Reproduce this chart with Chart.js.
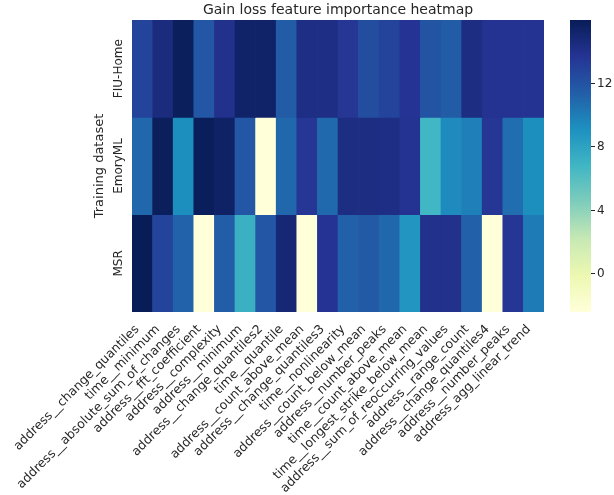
<!DOCTYPE html>
<html>
<head>
<meta charset="utf-8">
<script src="https://cdn.jsdelivr.net/npm/chart.js@4"></script>
<style>
  html, body { margin: 0; padding: 0; background: #ffffff; }
  #wrap { position: relative; width: 614px; height: 495px; }
  #heat { position: absolute; left: 0; top: 0; }
  #cbar { position: absolute; left: 560px; top: 0; }
</style>
</head>
<body>
<div id="wrap">
  <canvas id="heat" width="614" height="495"></canvas>
  <canvas id="cbar" width="54" height="495"></canvas>
</div>
<script>
// Features (columns) and training datasets (rows)
const features = [
  'address__change_quantiles', 'time__minimum', 'address__absolute_sum_of_changes',
  'address__fft_coefficient', 'address__complexity', 'address__minimum',
  'address__change_quantiles2', 'time__quantile', 'address__count_above_mean',
  'address__change_quantiles3', 'time__nonlinearity', 'address__count_below_mean',
  'address__number_peaks', 'time__count_above_mean', 'time__longest_strike_below_mean',
  'address__sum_of_reoccurring_values', 'address__range_count', 'address__change_quantiles4',
  'address__number_peaks', 'address_agg_linear_trend'
];
const rowNames = ['FIU-Home', 'EmoryML', 'MSR'];

// Gain loss per feature, one array per training dataset
const fiuHome = [12.9, 14.5, 15.8, 11.8, 14.0, 15.4, 15.4, 11.5, 14.3, 14.3, 13.6, 12.3, 12.9, 13.7, 12.0, 11.5, 14.4, 13.8, 13.8, 13.8];
const emoryML = [11.0, 15.8, 9.2, 15.9, 15.5, 11.8, -2.4, 11.0, 13.6, 10.9, 14.4, 14.4, 14.3, 13.8, 6.8, 9.4, 9.9, 13.6, 10.7, 9.2];
const msr     = [16.0, 12.9, 11.2, -2.4, 11.4, 7.2, 11.8, 14.9, -2.4, 13.7, 11.3, 11.6, 11.0, 8.8, 14.0, 14.0, 11.3, -2.4, 13.6, 10.1];

const colorbarTicks = [0, 4, 8, 12];

const rows = [fiuHome, emoryML, msr];
const allValues = rows.flat();
const vmin = Math.min(...allValues);
const vmax = Math.max(...allValues);

// YlGnBu colormap stops
const ylgnbu = ['#ffffd9', '#edf8b1', '#c7e9b4', '#7fcdbb', '#41b6c4', '#1d91c0', '#225ea8', '#253494', '#081d58'];
const stopRGB = ylgnbu.map(h => [parseInt(h.slice(1, 3), 16), parseInt(h.slice(3, 5), 16), parseInt(h.slice(5, 7), 16)]);

function colorFor(v) {
  let t = (v - vmin) / (vmax - vmin);
  t = Math.max(0, Math.min(1, t));
  const pos = t * (stopRGB.length - 1);
  const i = Math.min(Math.floor(pos), stopRGB.length - 2);
  const f = pos - i;
  const a = stopRGB[i], b = stopRGB[i + 1];
  const c = a.map((x, k) => Math.round(x + (b[k] - x) * f));
  return `rgb(${c[0]},${c[1]},${c[2]})`;
}

const FONT = '"DejaVu Sans", sans-serif';
const TEXT = '#262626';

// Title centred over the plot area, and vertical row labels on its left
const labelsPlugin = {
  id: 'heatLabels',
  afterDraw(chart) {
    const { ctx, chartArea } = chart;
    const y = chart.scales.y;
    ctx.save();
    ctx.fillStyle = TEXT;
    ctx.textAlign = 'center';
    ctx.textBaseline = 'middle';
    ctx.font = '14px ' + FONT;
    ctx.fillText('Gain loss feature importance heatmap', (chartArea.left + chartArea.right) / 2, 10);
    ctx.font = '12px ' + FONT;
    rowNames.forEach((name, r) => {
      const py = y.getPixelForValue(r + 0.5);
      ctx.save();
      ctx.translate(y.right - 13, py);
      ctx.rotate(-Math.PI / 2);
      ctx.fillText(name, 0, 0);
      ctx.restore();
    });
    ctx.restore();
  }
};

new Chart(document.getElementById('heat'), {
  type: 'bar',
  data: {
    labels: features,
    datasets: rows.map((vals, r) => ({
      label: rowNames[r],
      data: vals.map(() => [r, r + 1]),
      backgroundColor: vals.map(colorFor),
      borderWidth: 0,
      grouped: false,
      barPercentage: 1,
      categoryPercentage: 1
    }))
  },
  options: {
    responsive: false,
    animation: false,
    devicePixelRatio: 1,
    layout: { padding: { left: 88, right: 70, top: 20, bottom: 0 } },
    plugins: {
      legend: { display: false },
      tooltip: { enabled: false },
      title: { display: false }
    },
    scales: {
      x: {
        type: 'category',
        offset: true,
        grid: { display: false },
        border: { display: false },
        ticks: {
          autoSkip: false,
          minRotation: 45,
          maxRotation: 45,
          color: TEXT,
          padding: 2,
          labelOffset: -5,
          font: { family: FONT, size: 12.5 }
        },
        afterFit(scale) { scale.height = 183; }
      },
      y: {
        type: 'linear',
        min: 0,
        max: 3,
        reverse: true,
        grid: { display: false },
        border: { display: false },
        ticks: { display: false },
        title: {
          display: true,
          text: 'Training dataset',
          color: TEXT,
          font: { family: FONT, size: 13 },
          padding: { top: 4, bottom: 4 }
        },
        afterFit(scale) { scale.width = 44; }
      }
    }
  },
  plugins: [labelsPlugin]
});

// Colour bar
new Chart(document.getElementById('cbar'), {
  type: 'bar',
  data: {
    labels: [''],
    datasets: [{
      data: [[vmin, vmax]],
      borderWidth: 0,
      barPercentage: 1,
      categoryPercentage: 1,
      backgroundColor(ctx) {
        const chart = ctx.chart;
        if (!chart.chartArea) return ylgnbu[4];
        const y = chart.scales.y;
        const g = chart.ctx.createLinearGradient(0, y.getPixelForValue(vmin), 0, y.getPixelForValue(vmax));
        ylgnbu.forEach((c, i) => g.addColorStop(i / (ylgnbu.length - 1), c));
        return g;
      }
    }]
  },
  options: {
    responsive: false,
    animation: false,
    devicePixelRatio: 1,
    layout: { padding: { left: 10, right: 0, top: 20, bottom: 183 } },
    plugins: { legend: { display: false }, tooltip: { enabled: false } },
    scales: {
      x: { display: false, offset: true },
      y: {
        type: 'linear',
        position: 'right',
        min: vmin,
        max: vmax,
        afterBuildTicks(scale) { scale.ticks = colorbarTicks.map(v => ({ value: v })); },
        grid: { display: true, drawOnChartArea: false, drawTicks: true, tickLength: 4, color: TEXT },
        border: { display: false },
        ticks: { color: TEXT, padding: 2, font: { family: FONT, size: 12 } },
        afterFit(scale) { scale.width = 23; }
      }
    }
  }
});
</script>
</body>
</html>
